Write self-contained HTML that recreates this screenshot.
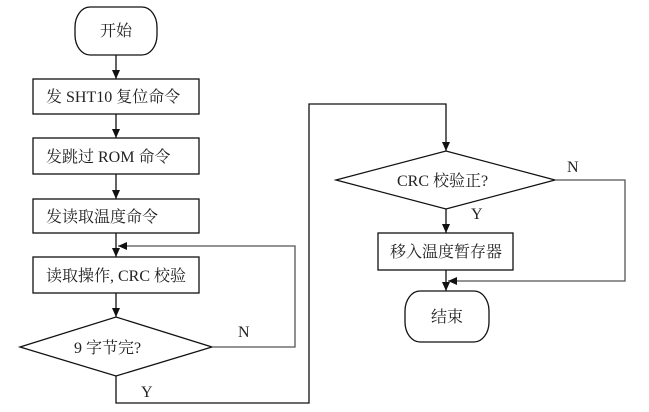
<!DOCTYPE html>
<html><head><meta charset="utf-8"><style>
html,body{margin:0;padding:0;background:#fff;}
svg{display:block;}
text{font-family:"Liberation Serif","Noto Serif CJK SC",serif;font-size:16px;fill:#222;}
</style></head><body>
<svg width="649" height="412" viewBox="0 0 649 412" xmlns="http://www.w3.org/2000/svg">
<defs>
<marker id="a" markerWidth="10" markerHeight="10" refX="9" refY="5" orient="auto" markerUnits="userSpaceOnUse">
<path d="M0,1 L9,5 L0,9 Z" fill="#111"/>
</marker>
</defs>
<g fill="none" stroke="#111" stroke-width="1.3">
<!-- start -->
<rect x="75" y="7" width="82" height="48" rx="15" ry="20" fill="#fff"/>
<rect x="33" y="79" width="166" height="35"/>
<rect x="33" y="138" width="166" height="36"/>
<rect x="33" y="199" width="166" height="34"/>
<rect x="33" y="257" width="166" height="36"/>
<polygon points="20,347 116,317 212,347 116,376"/>
<polygon points="336,180 446,151 555,180 446,209"/>
<rect x="378" y="233" width="135" height="37"/>
<rect x="405" y="291" width="84" height="51" rx="15" ry="20"/>
<!-- arrows -->
<line x1="116" y1="55" x2="116" y2="79" marker-end="url(#a)"/>
<line x1="116" y1="114" x2="116" y2="138" marker-end="url(#a)"/>
<line x1="116" y1="174" x2="116" y2="199" marker-end="url(#a)"/>
<line x1="116" y1="233" x2="116" y2="257" marker-end="url(#a)"/>
<line x1="116" y1="293" x2="116" y2="317" marker-end="url(#a)"/>
<polyline points="212,347 295,347 295,246 118,246" stroke="#555" marker-end="url(#a)"/>
<polyline points="116,376 116,403 309,403 309,104 446,104 446,151" marker-end="url(#a)"/>
<line x1="446" y1="209" x2="446" y2="233" marker-end="url(#a)"/>
<line x1="446" y1="270" x2="446" y2="291" marker-end="url(#a)"/>
<polyline points="555,180 625,180 625,281 448,281" stroke="#555" marker-end="url(#a)"/>
</g>
<text x="116" y="36" text-anchor="middle">开始</text>
<text x="46" y="102">发 SHT10 复位命令</text>
<text x="46" y="162">发跳过 ROM 命令</text>
<text x="46" y="222">发读取温度命令</text>
<text x="46" y="281">读取操作, CRC 校验</text>
<text x="74" y="353">9 字节完?</text>
<text x="238" y="337">N</text>
<text x="141" y="397">Y</text>
<text x="397" y="186">CRC 校验正?</text>
<text x="567" y="172">N</text>
<text x="471" y="219">Y</text>
<text x="446" y="257" text-anchor="middle">移入温度暂存器</text>
<text x="447" y="322" text-anchor="middle">结束</text>
</svg>
</body></html>
